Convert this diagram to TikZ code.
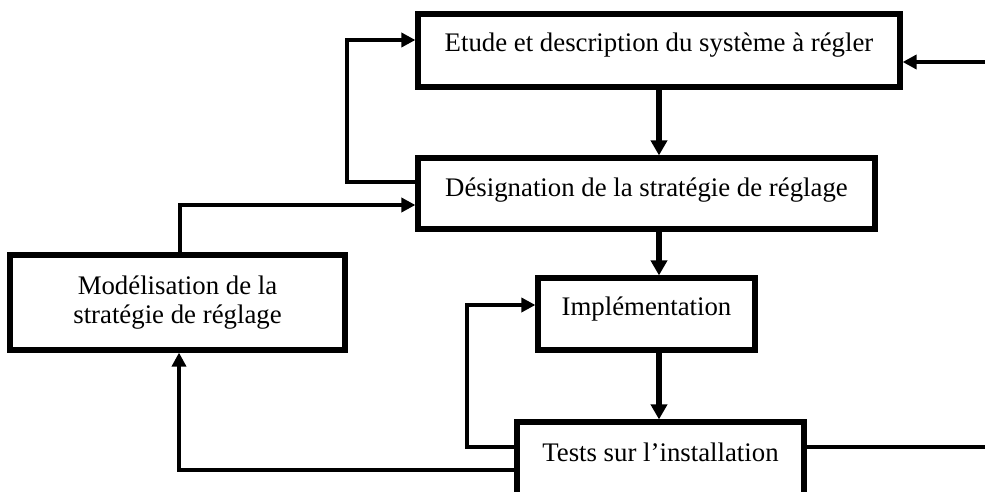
\documentclass[tikz,border=0pt]{standalone}
\usepackage{fontspec}
\setmainfont{Liberation Serif}
\usetikzlibrary{arrows.meta}
\tikzset{
  blk/.style={draw, line width=2.6pt, rectangle, inner sep=2pt, fill=white,
    font=\fontsize{13.4}{14.5}\selectfont},
  conn/.style={line width=2pt, -{Triangle[length=7pt,width=7pt]}},
  thickconn/.style={line width=2.8pt, -{Triangle[length=7.5pt,width=8pt]}},
  plainconn/.style={line width=2pt},
}
\begin{document}
\begin{tikzpicture}[x=0.5pt,y=-0.5pt]
\useasboundingbox (0,0) rectangle (985,492);
\clip (0,0) rectangle (985,492);
% boxes
\node[blk, minimum width=241pt, minimum height=36.5pt, text height=7.5pt, text depth=6pt] (A) at (659,50.5) {Etude et description du système à régler};
\node[blk, minimum width=228.5pt, minimum height=35.5pt, text height=8pt, text depth=5.5pt] (B) at (646.5,193.5) {Désignation de la stratégie de réglage};
\node[blk, minimum width=167.5pt, minimum height=47.5pt, align=center] (M) at (177.5,302.5) {Modélisation de la\\stratégie de réglage};
\node[blk, minimum width=108.5pt, minimum height=36pt, text height=7pt, text depth=6pt] (C) at (646.5,314) {Implémentation};
\node[blk, minimum width=143.5pt, minimum height=39pt, text height=6pt, text depth=6pt] (T) at (660.5,461) {Tests sur l’installation};
% turn points
\coordinate (in) at (985,62);
\coordinate (p1) at (347,182);
\coordinate (p2) at (347,40);
\coordinate (p3) at (180,205);
\coordinate (p4) at (467,447);
\coordinate (p5) at (467,305);
\coordinate (p6) at (179,470);
\coordinate (out) at (985,447);
% connectors
\draw[conn] (in) -- (A.east |- in);
\draw[thickconn] (A.south) -- (A.south |- B.north);
\draw[thickconn] (A.south |- B.south) -- (A.south |- C.north);
\draw[thickconn] (A.south |- C.south) -- (A.south |- T.north);
\draw[conn] (B.west |- p1) -- (p1) -- (p2) -- (A.west |- p2);
\draw[conn] (M.north -| p3) -- (p3) -- (B.west |- p3);
\draw[conn] (T.west |- p4) -- (p4) -- (p5) -- (C.west |- p5);
\draw[conn, line width=1.8pt] (T.west |- p6) -- (p6) -- (p6 |- M.south);
\draw[plainconn] (T.east |- out) -- (out);
\end{tikzpicture}
\end{document}
